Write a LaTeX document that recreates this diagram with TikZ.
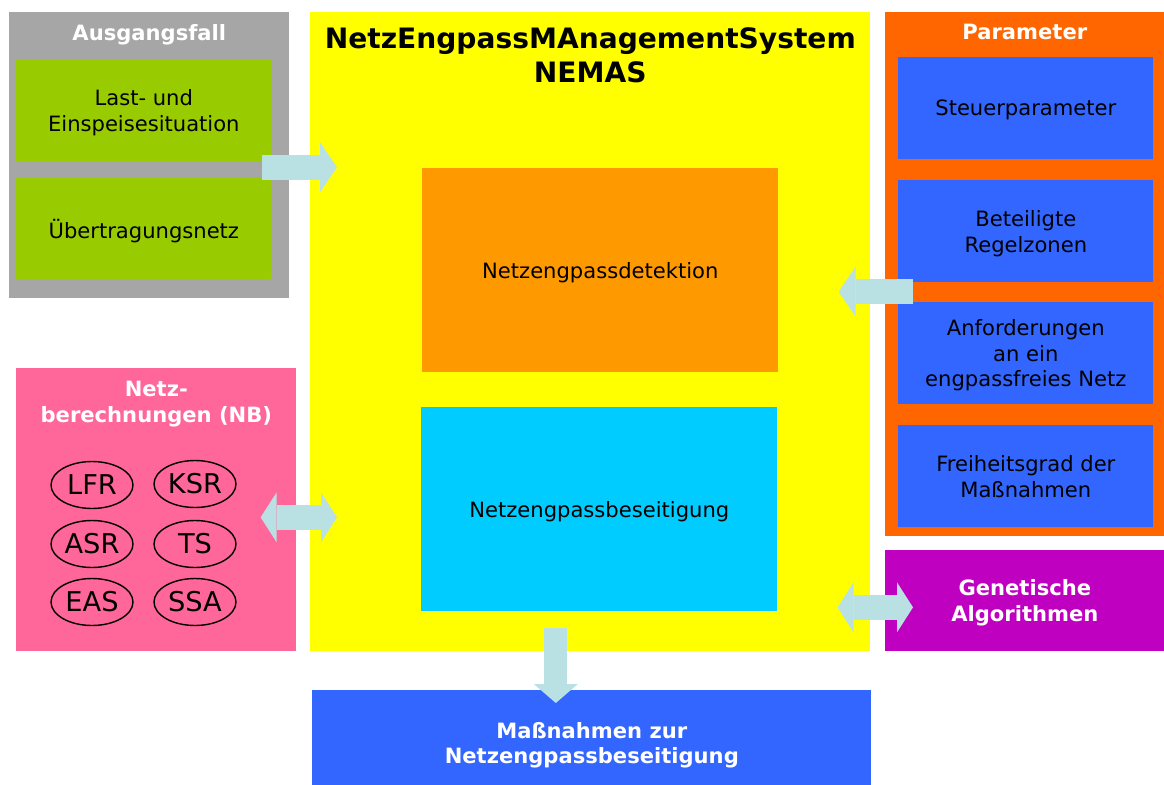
\documentclass[tikz,border=0pt]{standalone}
\usepackage{fontspec}
\setmainfont{DejaVu Sans}
\usetikzlibrary{calc,positioning,arrows.meta,shapes.geometric}
\definecolor{grau}{HTML}{A6A6A6}
\definecolor{gruen}{HTML}{99CC00}
\definecolor{gelb}{HTML}{FFFF00}
\definecolor{rot}{HTML}{FF6600}
\definecolor{orng}{HTML}{FF9900}
\definecolor{tuerkis}{HTML}{00CCFF}
\definecolor{blau}{HTML}{3366FF}
\definecolor{lila}{HTML}{C000C0}
\definecolor{rosa}{HTML}{FF6699}
\definecolor{hellblau}{HTML}{B9E0E3}
\tikzset{
  feld/.style={inner sep=0pt, anchor=north west, align=center, text depth=0pt, font=\fontsize{12}{14.7}\selectfont},
  kopf/.style={text=white, inner sep=0pt, align=center, text depth=0pt, font=\bfseries\fontsize{12}{14.5}\selectfont},
  titel/.style={inner sep=0pt, align=center, font=\bfseries\fontsize{16}{19.3}\selectfont},
  verf/.style={ellipse, draw=black, line width=0.8pt, minimum width=1.64cm, minimum height=0.94cm, inner sep=0pt, font=\fontsize{15.5}{18}\selectfont},
  pfeil/.style={draw=hellblau, line width=0.5cm, -{Triangle[length=0.34cm,width=1cm,line width=0pt]}},
  doppelpfeil/.style={draw=hellblau, line width=0.5cm, {Triangle[length=0.32cm,width=1cm,line width=0pt]}-{Triangle[length=0.32cm,width=1cm,line width=0pt]}}
}

\begin{document}
\begin{tikzpicture}[x=0.02cm,y=-0.02cm]
  \useasboundingbox[fill=white] (0,0) rectangle (1164,785);
  % Ausgangsfall
  \node[feld, fill=grau, minimum width=5.6cm, minimum height=5.72cm] (ausgang) at (9,12) {};
  \node[kopf] (ausgangkopf) at ($(ausgang.north)+(0,20)$) {Ausgangsfall};
  \node[feld, fill=gruen, minimum width=5.1cm, minimum height=2.04cm] (last) at (16,59) {Last- und\\Einspeisesituation};
  \node[feld, fill=gruen, minimum width=5.1cm, minimum height=2.02cm] (netz) at (16,178) {Übertragungsnetz};
  % NEMAS
  \node[feld, fill=gelb, minimum width=11.2cm, minimum height=12.78cm] (nemas) at (310,12) {};
  \node[titel] (nemastitel) at ($(nemas.north)+(0,43)$) {NetzEngpassMAnagementSystem\\NEMAS};
  \node[feld, fill=orng, minimum width=7.12cm, minimum height=4.08cm] (detektion) at (422,168) {Netzengpassdetektion};
  \node[feld, fill=tuerkis, minimum width=7.12cm, minimum height=4.08cm] (beseitigung) at (421,407) {Netzengpassbeseitigung};
  % Parameter
  \node[feld, fill=rot, minimum width=5.58cm, minimum height=10.48cm] (parameter) at (885,12) {};
  \node[kopf] (parameterkopf) at ($(parameter.north)+(0,20)$) {Parameter};
  \foreach \name/\y/\txt in {steuer/57/Steuerparameter, regel/180/{Beteiligte\\Regelzonen},
      anford/302/{Anforderungen\\an ein\\engpassfreies Netz}, frei/425/{Freiheitsgrad der\\Maßnahmen}}
    \node[feld, fill=blau, minimum width=5.1cm, minimum height=2.03cm] (\name) at (898,\y) {\txt};
  % Genetische Algorithmen
  \node[feld, fill=lila, minimum width=5.58cm, minimum height=2.02cm, text=white, font=\bfseries\fontsize{12}{14.7}\selectfont] (ga) at (885,550) {Genetische\\Algorithmen};
  % Netzberechnungen
  \node[feld, fill=rosa, minimum width=5.6cm, minimum height=5.66cm] (nb) at (16,368) {};
  \node[kopf] (nbkopf) at ($(nb.north)+(0,34)$) {Netz-\\berechnungen (NB)};
  \foreach \name/\x/\y in {LFR/92/485, KSR/195/484, ASR/92/544, TS/195/544, EAS/92/602, SSA/195/602}
    \node[verf] (\name) at (\x,\y) {\name};
  % Massnahmen
  \node[feld, fill=blau, minimum width=11.18cm, minimum height=1.9cm, text=white, font=\bfseries\fontsize{12}{14.7}\selectfont] (massnahmen) at (312,690) {\rule{0pt}{15pt}Maßnahmen zur\\Netzengpassbeseitigung};
  % Pfeile
  \draw[pfeil] ($(last.south east)+(-10,5.5)$) -- ($(last.south east -| nemas.west)+(27,5.5)$);
  \draw[pfeil] ($(regel.south west)+(15,9.5)$) -- ($(regel.south west -| detektion.east)+(60,9.5)$);
  \draw[doppelpfeil] ($(nb.east)+(-36,7.5)$) -- ($(nb.east -| nemas.west)+(27,7.5)$);
  \draw[doppelpfeil] ($(ga.west)+(28,6.5)$) -- ($(ga.west -| nemas.east)+(-33,6.5)$);
  \draw[pfeil, line width=0.46cm, -{Triangle[length=0.38cm,width=0.88cm,line width=0pt]}] ($(beseitigung.south)+(-43.5,16)$) -- ($(beseitigung.south |- massnahmen.north)+(-43.5,13)$);
\end{tikzpicture}
\end{document}
